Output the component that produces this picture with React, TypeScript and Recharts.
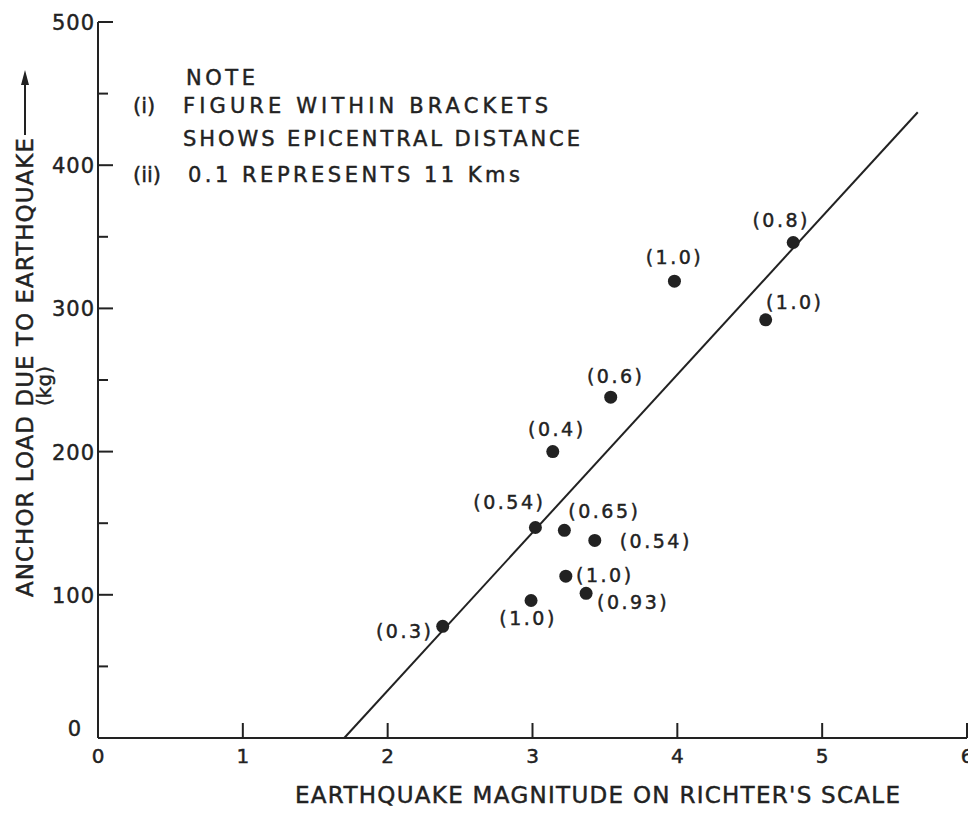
import React from "react";
import { ScatterChart, Scatter, XAxis, YAxis, ReferenceLine } from "recharts";

// earthquake magnitude (Richter) and anchor load (kg) per recorded event
const magnitude = [2.38, 2.99, 3.02, 3.22, 3.43, 3.23, 3.37, 3.14, 3.54, 3.98, 4.61, 4.8];
const anchorLoad = [78, 96, 147, 145, 138, 113, 101, 200, 238, 319, 292, 346];
const epicentralDistance = ["0.3", "1.0", "0.54", "0.65", "0.54", "1.0", "0.93", "0.4", "0.6", "1.0", "1.0", "0.8"];

// end points of the drawn trend line
const fitMagnitude = [1.7, 5.66];
const fitLoad = [0, 437];

const xTicks = [0, 1, 2, 3, 4, 5, 6];
const yTicks = [0, 50, 100, 150, 200, 250, 300, 350, 400, 450, 500];

// where each bracketed figure sits relative to its dot (px)
const tagOffsets = [
  [-39, 5], [-4, 17], [-27, -25], [39, -19], [60, 1], [38, -1],
  [46, 9], [3, -23], [4, -21], [-1, -24], [28, -18], [-13, -23],
];

const INK = "#222";
const FONT = "'DejaVu Sans', sans-serif";
const W = 966;
const H = 805;

// hand lettering is heavier than the font, so give text a thin outline
const textStyle = { fontFamily: FONT, fill: INK, stroke: INK, strokeWidth: 0.45 } as const;

const points = magnitude.map((x, i) => ({ x, y: anchorLoad[i], tag: epicentralDistance[i], i }));

const YTick = (props: any) => {
  const { x, y, payload } = props;
  const v = payload.value;
  const major = v % 100 === 0;
  return (
    <g>
      <line x1={x} y1={y} x2={x + (major ? 15 : 10)} y2={y} stroke={INK} strokeWidth={2} />
      {major && (
        <text x={x - (v === 0 ? 16 : 3)} y={y + (v === 0 ? -2 : 8)} textAnchor="end"
          {...textStyle} style={{ fontSize: 21, letterSpacing: 1 }}>
          {v}
        </text>
      )}
    </g>
  );
};

const XTick = (props: any) => {
  const { x, y, payload } = props;
  return (
    <g>
      <line x1={x} y1={y} x2={x} y2={y - 15} stroke={INK} strokeWidth={2} />
      <text x={x} y={y + 25} textAnchor="middle" {...textStyle} style={{ fontSize: 20 }}>
        {payload.value}
      </text>
    </g>
  );
};

const Dot = (props: any) => {
  const { cx, cy, payload } = props;
  const [dx, dy] = tagOffsets[payload.i];
  return (
    <g>
      <circle cx={cx} cy={cy} r={6.5} fill={INK} />
      <text x={cx + dx + 1} y={cy + dy + 7} textAnchor="middle"
        {...textStyle} style={{ fontSize: 19, letterSpacing: 2.5 }}>
        ({payload.tag})
      </text>
    </g>
  );
};

export default function App() {
  return (
    <div style={{ position: "relative", width: W, height: H }}>
      <ScatterChart width={W} height={H} margin={{ top: 14, right: 7, bottom: 0, left: 0 }}>
        <XAxis type="number" dataKey="x" domain={[0, 6]} ticks={xTicks} interval={0}
          height={75} tickSize={0} tickMargin={0} tickLine={false}
          axisLine={{ stroke: INK, strokeWidth: 2 }} tick={<XTick />} />
        <YAxis type="number" dataKey="y" domain={[0, 500]} ticks={yTicks} interval={0}
          width={90} tickSize={0} tickMargin={0} tickLine={false}
          axisLine={{ stroke: INK, strokeWidth: 2 }} tick={<YTick />} />
        <ReferenceLine
          segment={[{ x: fitMagnitude[0], y: fitLoad[0] }, { x: fitMagnitude[1], y: fitLoad[1] }]}
          stroke={INK} strokeWidth={2} ifOverflow="visible" />
        <Scatter data={points} shape={<Dot />} isAnimationActive={false} />
      </ScatterChart>
      <svg width={W} height={H} style={{ position: "absolute", left: 0, top: 0, pointerEvents: "none" }}>
        <g style={{ fontSize: 21 }}>
          <text x={178} y={77} textLength={69} lengthAdjust="spacing" {...textStyle}>NOTE</text>
          <text x={125} y={105} {...textStyle}>(i)</text>
          <text x={175} y={105} textLength={365} lengthAdjust="spacing" {...textStyle}>FIGURE WITHIN  BRACKETS</text>
          <text x={175} y={138} textLength={397} lengthAdjust="spacing" {...textStyle}>SHOWS EPICENTRAL DISTANCE</text>
          <text x={125} y={174} {...textStyle}>(ii)</text>
          <text x={180} y={174} textLength={332} lengthAdjust="spacing" {...textStyle}>0.1 REPRESENTS 11 Kms</text>
        </g>
        <text x={287} y={795} textLength={605} lengthAdjust="spacing" style={{ fontSize: 23 }} {...textStyle}>
          EARTHQUAKE MAGNITUDE ON RICHTER'S SCALE
        </text>
        <text transform="translate(25, 589) rotate(-90)" textLength={459} lengthAdjust="spacing"
          style={{ fontSize: 23 }} {...textStyle}>
          ANCHOR LOAD DUE TO EARTHQUAKE
        </text>
        <text transform="translate(43, 378) rotate(-90)" textAnchor="middle" style={{ fontSize: 20 }} {...textStyle}>
          (kg)
        </text>
        <line x1={17} y1={127} x2={17} y2={74} stroke={INK} strokeWidth={2} />
        <polygon points="17,62 13,77 21,77" fill={INK} />
      </svg>
    </div>
  );
}
